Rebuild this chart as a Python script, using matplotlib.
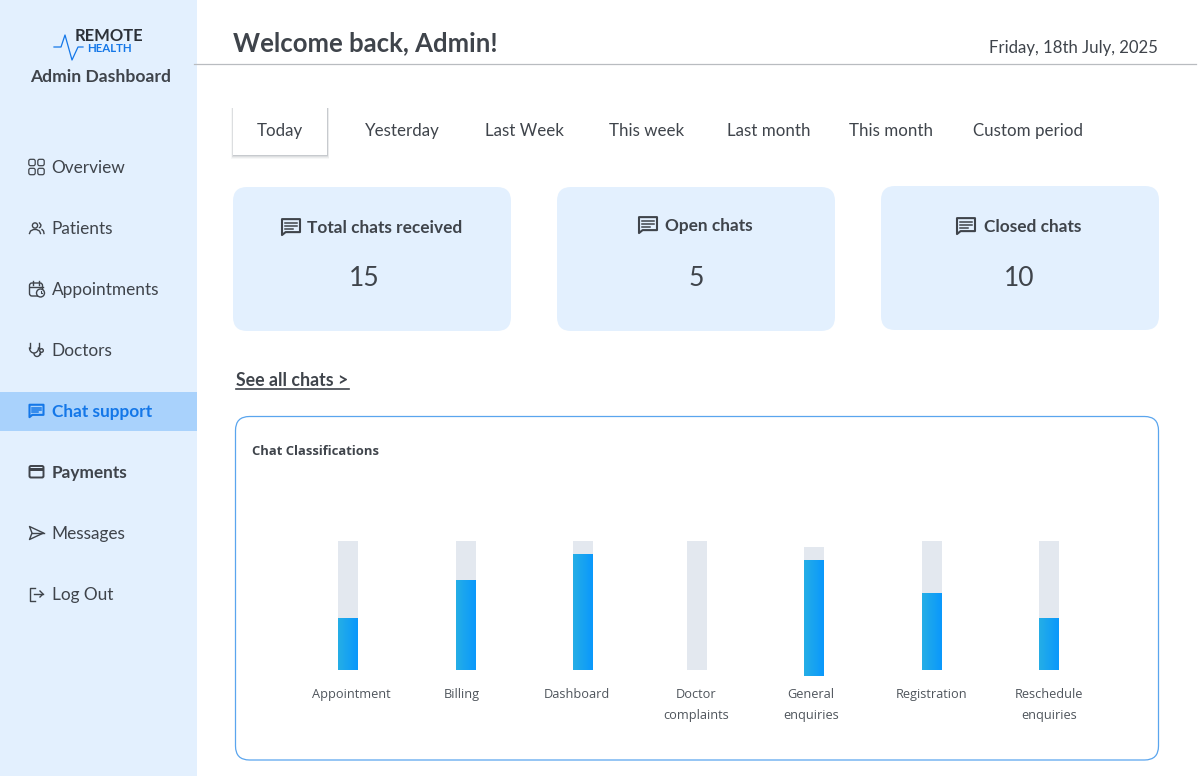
import numpy as np
import matplotlib
matplotlib.use("Agg")
import matplotlib.pyplot as plt
from matplotlib.colors import LinearSegmentedColormap
from matplotlib.patches import Circle, FancyBboxPatch, Polygon, Rectangle

# chart data (percent of track)
categories = ["Appointment", "Billing", "Dashboard", "Doctor\ncomplaints",
              "General\nenquiries", "Registration", "Reschedule\nenquiries"]
chat_share = [40, 70, 90, 0, 90, 60, 40]
track_max = [100, 100, 100, 100, 100, 100, 100]

# page text
nav_items = ["Overview", "Patients", "Appointments", "Doctors",
             "Chat support", "Payments", "Messages", "Log Out"]
tabs = ["Today", "Yesterday", "Last Week", "This week",
        "Last month", "This month", "Custom period"]
card_titles = ["Total chats received", "Open chats", "Closed chats"]
card_values = ["15", "5", "10"]

# layout, in reference pixels
bar_x = [347.5, 465.5, 583, 697, 814, 932, 1049]
bar_shift = [0, 0, 0, 0, -5, 0, 0]
label_x = [351, 461.5, 577, 696, 811, 932, 1049]
nav_y = [167, 228, 289, 350, 411, 472, 533, 594]
tab_x = [279.5, 402, 524, 646.5, 768.5, 891, 1028]
card_x = [233, 557, 881]
card_y = [187, 187, 186]

DARK = "#3f444b"
PANEL = "#e3f0fe"
BLUE = "#1477e8"
FONT = "Lato"
LABEL_FONT = "Open Sans"

plt.rcParams["font.family"] = [FONT, "DejaVu Sans"]


def px(size):
    return size * 0.72


def rounded(ax, x, y, w, h, r, **kw):
    patch = FancyBboxPatch((x + r, y + r), w - 2 * r, h - 2 * r,
                           boxstyle=f"round,pad={r},rounding_size={r}", **kw)
    ax.add_patch(patch)
    return patch


def chat_icon(ax, cx, cy, s, color):
    # speech bubble with text lines, s is the width in pixels
    h = s * 0.82
    x0, x1 = cx - s / 2, cx + s / 2
    y0, y1 = cy - h / 2, cy + h / 2
    pts = [(x0, y0), (x1, y0), (x1, y1 - h * 0.12), (x0 + s * 0.2, y1 - h * 0.12), (x0, y1 + h * 0.08)]
    ax.add_patch(Polygon(pts, closed=True, fill=False, ec=color, lw=1.5, joinstyle="round"))
    for frac, length in [(0.25, 0.62), (0.45, 0.62), (0.65, 0.42)]:
        yy = y0 + h * frac
        ax.plot([x0 + s * 0.19, x0 + s * 0.19 + s * length], [yy, yy], color=color, lw=1.1)


def nav_icon(ax, name, cy):
    c = DARK
    cx = 36.5
    if name == "Overview":
        for dx in (-4.5, 4.5):
            for dy in (-4.5, 4.5):
                rounded(ax, cx + dx - 3.2, cy + dy - 3.2, 6.4, 6.4, 1.8, fc="none", ec=c, lw=0.9)
    elif name == "Patients":
        ax.add_patch(Circle((cx - 1.5, cy - 2.5), 2.6, fc="none", ec=c, lw=1.0))
        ax.plot([cx - 7, cx - 6, cx - 3, cx, cx + 3, cx + 4], [cy + 5.5, cy + 3, cy + 1.5, cy + 1.5, cy + 3, cy + 5.5], color=c, lw=1.0)
        ax.plot([cx + 3, cx + 4.5, cx + 4, cx + 3], [cy - 5, cy - 3, cy - 1, cy - 0.5], color=c, lw=1.0)
        ax.plot([cx + 5.5, cx + 7, cx + 7.5], [cy + 1.5, cy + 3, cy + 5.5], color=c, lw=1.0)
    elif name == "Appointments":
        rounded(ax, cx - 7, cy - 6, 13, 13, 2.5, fc="none", ec=c, lw=1.0)
        ax.plot([cx - 7, cx + 6], [cy - 2.5, cy - 2.5], color=c, lw=1.0)
        ax.plot([cx - 3.5, cx - 3.5], [cy - 8, cy - 4.5], color=c, lw=1.0)
        ax.plot([cx + 2.5, cx + 2.5], [cy - 8, cy - 4.5], color=c, lw=1.0)
        ax.add_patch(Circle((cx + 4, cy + 4), 4, fc=PANEL, ec=c, lw=1.0, zorder=3))
        ax.plot([cx + 4, cx + 4, cx + 5.5], [cy + 2, cy + 4, cy + 4], color=c, lw=0.8, zorder=4)
    elif name == "Doctors":
        t = np.linspace(0, np.pi, 20)
        ax.plot(cx - 2.5 + 4.5 * np.cos(t), cy - 2 + 5 * np.sin(t), color=c, lw=1.0)
        ax.plot([cx - 7, cx - 7], [cy - 2, cy - 7], color=c, lw=1.0)
        ax.plot([cx + 2, cx + 2], [cy - 2, cy - 7], color=c, lw=1.0)
        ax.plot(cx + 0.5 + 3 * np.cos(t), cy + 3.5 + 3 * np.sin(t), color=c, lw=1.0)
        ax.plot([cx + 3.5, cx + 3.5], [cy + 3.5, cy + 2], color=c, lw=1.0)
        ax.add_patch(Circle((cx + 5, cy + 0.5), 1.8, fc="none", ec=c, lw=1.0))
    elif name == "Chat support":
        chat_icon(ax, cx, cy - 0.5, 14, BLUE)
    elif name == "Payments":
        rounded(ax, cx - 7, cy - 6, 14, 11.5, 1.5, fc="none", ec=c, lw=1.4)
        ax.add_patch(Rectangle((cx - 7, cy - 4), 14, 3, fc=c, ec="none"))
    elif name == "Messages":
        ax.add_patch(Polygon([(cx - 7, cy - 6.5), (cx + 7, cy), (cx - 7, cy + 6.5), (cx - 4.5, cy)],
                             closed=True, fill=False, ec=c, lw=1.0, joinstyle="round"))
        ax.plot([cx - 4.5, cx + 7], [cy, cy], color=c, lw=1.0)
    elif name == "Log Out":
        ax.plot([cx - 1.5, cx - 7, cx - 7, cx - 1.5], [cy - 6.5, cy - 6.5, cy + 6.5, cy + 6.5], color=c, lw=1.0)
        ax.plot([cx - 3, cx + 6.5], [cy, cy], color=c, lw=1.0)
        ax.plot([cx + 3.5, cx + 6.5, cx + 3.5], [cy - 3, cy, cy + 3], color=c, lw=1.0)


fig = plt.figure(figsize=(12, 7.76), dpi=100, facecolor="white")
page = fig.add_axes([0, 0, 1, 1])
page.set_xlim(0, 1200)
page.set_ylim(776, 0)
page.axis("off")

# sidebar
page.add_patch(Rectangle((0, 0), 197, 776, fc=PANEL, ec="none"))
page.add_patch(Rectangle((0, 392), 197, 39, fc="#a9d2fc", ec="none"))
page.plot([54, 61, 65, 72, 78, 83], [47, 47, 35, 60, 47, 47], color=BLUE, lw=0.9)
page.text(75, 41, "REMOTE", fontsize=px(16.5), fontweight="bold", color="#2c3138", va="baseline")
page.text(87.5, 51.5, "HEALTH", fontsize=px(11.5), fontweight="bold", color=BLUE, va="baseline")
page.text(101, 82.5, "Admin Dashboard", fontsize=px(17.5), fontweight="bold", color=DARK, ha="center", va="baseline")

for name, y in zip(nav_items, nav_y):
    active = name == "Chat support"
    heavy = active or name == "Payments"
    page.text(51.5, y + 6, name, fontsize=px(17.3), color=BLUE if active else DARK,
              fontweight="bold" if heavy else "normal", va="baseline")
    nav_icon(page, name, y)

# header
page.text(233, 51, "Welcome back, Admin!", fontsize=px(25.8), fontweight="bold", color=DARK, va="baseline")
page.text(1158, 53.5, "Friday, 18th July, 2025", fontsize=px(16.8), color=DARK, ha="right", va="baseline")
page.plot([194, 1196], [63.5, 63.5], color="#b9bcc0", lw=0.9)

# tabs
for grow, alpha in [(4, 0.05), (3, 0.07), (2, 0.10), (1, 0.16)]:
    page.add_patch(Rectangle((233 - grow / 2, 108), 94 + grow, 46.5 + grow, fc="#5c6570", alpha=alpha, ec="none"))
page.add_patch(Rectangle((233, 107), 94, 47.5, fc="white", ec="none"))
for name, x in zip(tabs, tab_x):
    page.text(x, 136, name, fontsize=px(16.9), color=DARK, ha="center", va="baseline")

# summary cards
title_x = [385, 709, 1033]
icon_x = [291, 648, 966]
title_y = [227, 225, 226]
value_x = [364, 696, 1019]
for i in range(3):
    rounded(page, card_x[i], card_y[i], 278, 144, 14, fc=PANEL, ec="none")
    page.text(title_x[i], title_y[i] + 6, card_titles[i], fontsize=px(17.2), fontweight="bold",
              color=DARK, ha="center", va="baseline")
    chat_icon(page, icon_x[i], title_y[i] - 0.5, 18, DARK)
    page.text(value_x[i], 286, card_values[i], fontsize=px(26.5), color=DARK, ha="center", va="baseline")

page.text(235.5, 385.5, "See all chats >", fontsize=px(17.8), fontweight="bold", color=DARK, va="baseline")
page.plot([235.5, 348.5], [388.5, 388.5], color=DARK, lw=1.2)

# chart frame
rounded(page, 235.5, 416.5, 923, 343.5, 14, fc="white", ec="#5aa5ee", lw=0.9)
page.text(252, 455, "Chat Classifications", fontsize=px(13), fontweight="bold", color=DARK,
          family=[LABEL_FONT, "DejaVu Sans"], va="baseline")

# bars: one axes spanning the frame width, y runs 0 to 100 over the track height
chart = fig.add_axes([0, (776 - 670) / 776, 1, 129 / 776], zorder=2)
chart.set_xlim(0, 1200)
chart.set_ylim(0, 100)
chart.axis("off")
chart.patch.set_alpha(0)

bar_cmap = LinearSegmentedColormap.from_list("bar_fill", ["#25aee6", "#0a98fc"])
gradient = np.linspace(0, 1, 64).reshape(1, -1)
bar_w = 20
for x, val, top, shift in zip(bar_x, chat_share, track_max, bar_shift):
    track = chart.bar(x, top, width=bar_w, bottom=shift, color="#e3e8ef", clip_on=False)[0]
    if val == 0:
        continue
    fill = chart.bar(x, val, width=bar_w, bottom=shift, color="none", clip_on=False)[0]
    img = chart.imshow(gradient, cmap=bar_cmap, aspect="auto", zorder=3,
                       extent=(x - bar_w / 2, x + bar_w / 2, shift, shift + val))
    img.set_clip_path(fill)
chart.set_xlim(0, 1200)
chart.set_ylim(0, 100)

for name, x in zip(categories, label_x):
    lines = name.split("\n")
    for k, line in enumerate(lines):
        page.text(x, 698 + 21 * k, line, fontsize=px(12.8), color="#4f555c",
                  family=[LABEL_FONT, "DejaVu Sans"], ha="center", va="baseline")

fig.savefig("out.png", dpi=100)
